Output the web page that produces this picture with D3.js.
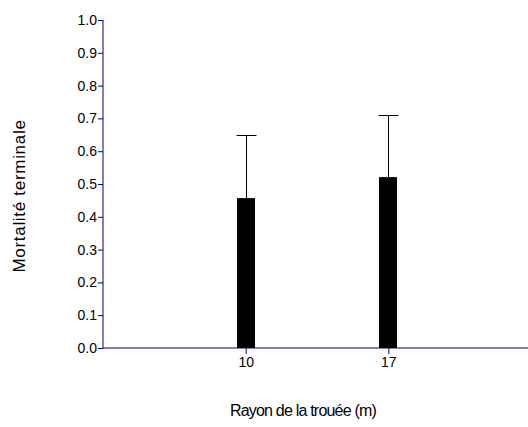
<!DOCTYPE html>
<html><head><meta charset="utf-8">
<script src="https://cdn.jsdelivr.net/npm/d3@7"></script>
<style>body{margin:0;background:#fff;} svg{display:block;}</style>
</head><body>
<svg id="c" width="528" height="427"></svg>
<script>
const categories = ["10", "17"];
const means = [0.457, 0.521];
const errUpper = [0.649, 0.710];
const yTicks = [0,0.1,0.2,0.3,0.4,0.5,0.6,0.7,0.8,0.9,1.0];

const svg = d3.select("#c");
const axisColor = "#000080";
const x = d3.scalePoint().domain(categories).range([103, 531]).padding(1);
const y = d3.scaleLinear().domain([0, 1]).range([348, 20]);
const font = "Liberation Sans, Arial, sans-serif";

// y axis
const ya = svg.append("g").attr("transform", "translate(103,0)")
  .call(d3.axisLeft(y).tickValues(yTicks).tickFormat(d3.format(".1f")).tickSize(5).tickPadding(1));
ya.select(".domain").attr("stroke", axisColor).attr("d", `M0,${y(1)}V${y(0)}`);
ya.selectAll(".tick line").attr("stroke", axisColor);
ya.selectAll(".tick text").attr("fill", "#000").style("font-family", font).style("font-size", "14px");

// x axis
const xa = svg.append("g").attr("transform", "translate(0,348)")
  .call(d3.axisBottom(x).tickSize(6).tickPadding(3));
xa.select(".domain").attr("stroke", axisColor).attr("d", "M103,0H528");
xa.selectAll(".tick line").attr("stroke", axisColor);
xa.selectAll(".tick text").attr("fill", "#000").style("font-family", font).style("font-size", "14px");

const bw = 18;
// error bars
const g = svg.append("g");
categories.forEach((c, i) => {
  const cx = Math.round(x(c)) + 0.5;
  g.append("line").attr("x1", cx).attr("x2", cx).attr("y1", y(means[i])).attr("y2", y(errUpper[i]))
    .attr("stroke", "#000").attr("stroke-width", 1);
  g.append("line").attr("x1", cx - 10).attr("x2", cx + 10).attr("y1", Math.round(y(errUpper[i])) + 0.5).attr("y2", Math.round(y(errUpper[i])) + 0.5)
    .attr("stroke", "#000").attr("stroke-width", 1);
});
// bars
g.selectAll("rect").data(categories).join("rect")
  .attr("x", d => Math.round(x(d)) - bw / 2)
  .attr("width", bw)
  .attr("y", (d, i) => y(means[i]))
  .attr("height", (d, i) => y(0) - y(means[i]))
  .attr("fill", "#000");

// titles
svg.append("text").attr("transform", "translate(25,196) rotate(-90)")
  .attr("text-anchor", "middle").style("font-family", font).style("font-size", "17px")
  .style("letter-spacing", "0.7px")
  .text("Mortalité terminale");
svg.append("text").attr("x", 303).attr("y", 416)
  .attr("text-anchor", "middle").style("font-family", font).style("font-size", "16px")
  .style("letter-spacing", "-0.8px")
  .text("Rayon de la trouée (m)");
</script>
</body></html>
